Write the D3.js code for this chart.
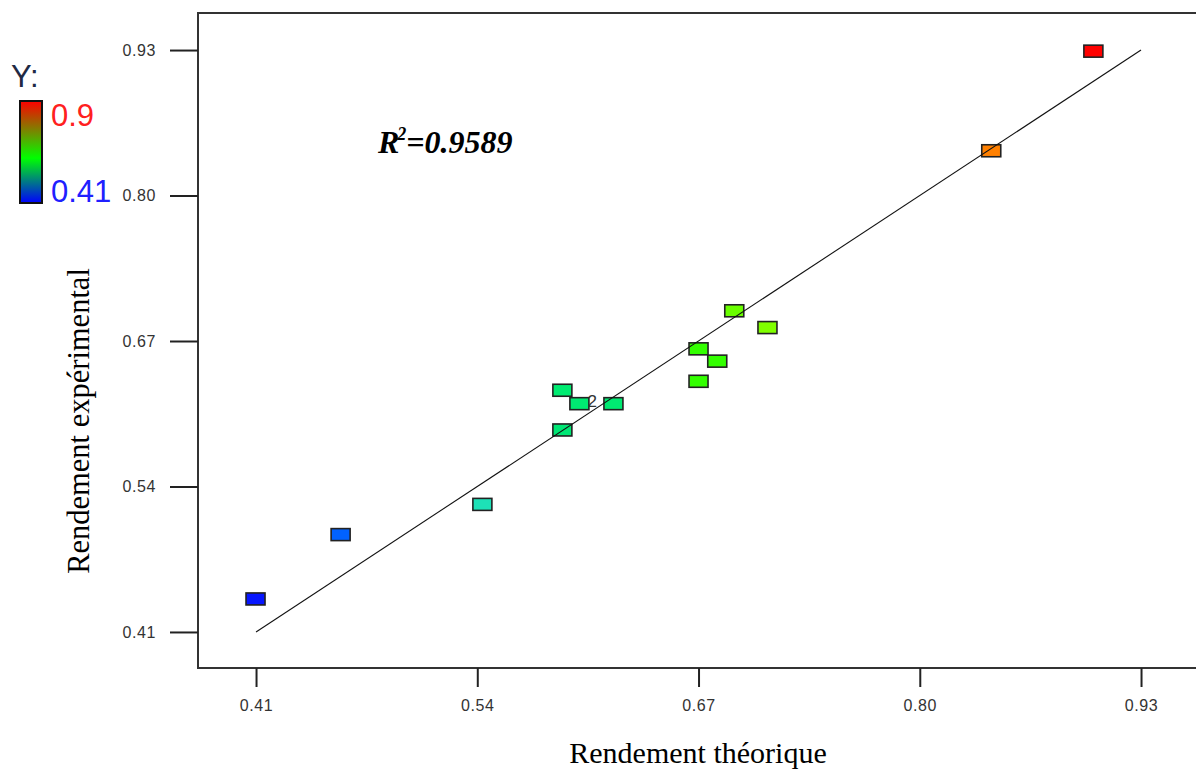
<!DOCTYPE html>
<html><head><meta charset="utf-8">
<script src="https://cdn.jsdelivr.net/npm/d3@7/dist/d3.min.js"></script>
<style>body{margin:0;background:#fff}svg{display:block}</style>
</head><body><svg id="c" width="1196" height="770"></svg>
<script>
// data
const predicted = [0.902, 0.842, 0.691, 0.7105, 0.670, 0.681, 0.670, 0.590, 0.600, 0.620, 0.590, 0.543, 0.4597, 0.4097];
const actual    = [0.929, 0.840, 0.697, 0.682, 0.663, 0.652, 0.634, 0.626, 0.614, 0.614, 0.5905, 0.524, 0.497, 0.4395];
const pointLabels = ["", "", "", "", "", "", "", "", "2", "", "", "", "", ""];
const tickValues = [0.41, 0.54, 0.67, 0.80, 0.93];
const tickLabels = ["0.41", "0.54", "0.67", "0.80", "0.93"];
const fitLine = [0.41, 0.93];
const legendMin = 0.41, legendMax = 0.9;
const r2Text = "=0.9589";

const svg = d3.select("#c");
const L = 198, R = 1196, T = 13, B = 668;
const x = d3.scaleLinear().domain([0.3759, 0.9623]).range([L, R]);
const y = d3.scaleLinear().domain([0.3778, 0.9631]).range([B, T]);
const color = d3.scaleLinear()
  .domain([0.41, 0.45, 0.50, 0.525, 0.585, 0.63, 0.633, 0.665, 0.682, 0.70, 0.84, 0.93])
  .range(["#0000ff", "#0a1eff", "#0066ff", "#1ee6b4", "#00e676", "#00ec70", "#33ff00", "#33ff00", "#80ff00", "#66ff00", "#ff8000", "#ff0000"]);

// frame
svg.append("line").attr("x1", L).attr("x2", R).attr("y1", T).attr("y2", T).attr("stroke", "#333").attr("stroke-width", 2);
svg.append("line").attr("x1", L).attr("x2", L).attr("y1", T - 1).attr("y2", B + 1).attr("stroke", "#333").attr("stroke-width", 2);

// axes
const fmt = (d, i) => tickLabels[i];
const xAxis = d3.axisBottom(x).tickValues(tickValues).tickFormat(fmt).tickSize(19).tickPadding(13);
const gx = svg.append("g").attr("transform", `translate(0,${B})`).call(xAxis);
const yAxis = d3.axisLeft(y).tickValues(tickValues).tickFormat(fmt).tickSize(28).tickPadding(14);
const gy = svg.append("g").attr("transform", `translate(${L},0)`).call(yAxis);
[gx, gy].forEach(g => {
  g.select(".domain").attr("stroke", "#333").attr("stroke-width", 2);
  g.selectAll(".tick line").attr("stroke", "#222").attr("stroke-width", 2);
  g.selectAll(".tick text").attr("font-family", "Arial, 'Liberation Sans', sans-serif")
    .attr("font-size", 16).attr("fill", "#333").attr("letter-spacing", 0.6);
});
gx.select(".domain").attr("d", `M${L},0H${R}`);
gy.select(".domain").attr("d", `M0,${T}V${B}`);

// points
const mw = 19, mh = 12;
const pts = svg.append("g");
predicted.forEach((p, i) => {
  pts.append("rect").attr("x", x(p) - mw / 2).attr("y", y(actual[i]) - mh / 2)
    .attr("width", mw).attr("height", mh)
    .attr("fill", color(actual[i])).attr("stroke", "#222").attr("stroke-width", 1.6);
});
// fit line drawn over the markers, as in the reference
svg.append("line").attr("x1", x(fitLine[0])).attr("y1", y(fitLine[0]))
  .attr("x2", x(fitLine[1])).attr("y2", y(fitLine[1]))
  .attr("stroke", "#111").attr("stroke-width", 1.1);
predicted.forEach((p, i) => {
  if (pointLabels[i]) {
    svg.append("text").attr("x", x(p) + 8).attr("y", y(actual[i]) + 3)
      .attr("font-family", "Arial, 'Liberation Sans', sans-serif").attr("font-size", 17)
      .attr("fill", "#333").text(pointLabels[i]);
  }
});

// R² annotation
const rt = svg.append("text").attr("x", 378).attr("y", 153)
  .attr("font-family", "'Liberation Serif', 'Times New Roman', serif")
  .attr("font-size", 32).attr("font-weight", "bold").attr("font-style", "italic").attr("fill", "#000");
rt.append("tspan").text("R");
rt.append("tspan").attr("font-size", 18).attr("dy", -13).attr("dx", -2).text("2");
rt.append("tspan").attr("dy", 13).text(r2Text);

// axis titles
svg.append("text").attr("x", 698).attr("y", 763).attr("text-anchor", "middle")
  .attr("font-family", "'Liberation Serif', 'Times New Roman', serif").attr("font-size", 30)
  .attr("fill", "#000").text("Rendement théorique");
svg.append("text").attr("transform", "translate(89,421) rotate(-90)").attr("text-anchor", "middle")
  .attr("font-family", "'Liberation Serif', 'Times New Roman', serif").attr("font-size", 30.5)
  .attr("fill", "#000").text("Rendement expérimental");

// legend
svg.append("text").attr("x", 11).attr("y", 87).attr("font-family", "Arial, 'Liberation Sans', sans-serif")
  .attr("font-size", 31).attr("fill", "#1f2a44").text("Y:");
const defs = svg.append("defs");
const grad = defs.append("linearGradient").attr("id", "g").attr("x1", 0).attr("x2", 0).attr("y1", 0).attr("y2", 1);
[[0, "#ff0000"], [0.56, "#00ff00"], [1, "#0000ff"]].forEach(s =>
  grad.append("stop").attr("offset", s[0]).attr("stop-color", s[1]));
svg.append("rect").attr("x", 20).attr("y", 101).attr("width", 22).attr("height", 102)
  .attr("fill", "url(#g)").attr("stroke", "#111").attr("stroke-width", 2);
svg.append("text").attr("x", 51).attr("y", 126).attr("font-family", "Arial, 'Liberation Sans', sans-serif")
  .attr("font-size", 31).attr("fill", "#ff2020").text(d3.format(".1f")(legendMax));
svg.append("text").attr("x", 51).attr("y", 202).attr("font-family", "Arial, 'Liberation Sans', sans-serif")
  .attr("font-size", 31).attr("fill", "#2020ff").text(d3.format(".2f")(legendMin));
</script></body></html>
